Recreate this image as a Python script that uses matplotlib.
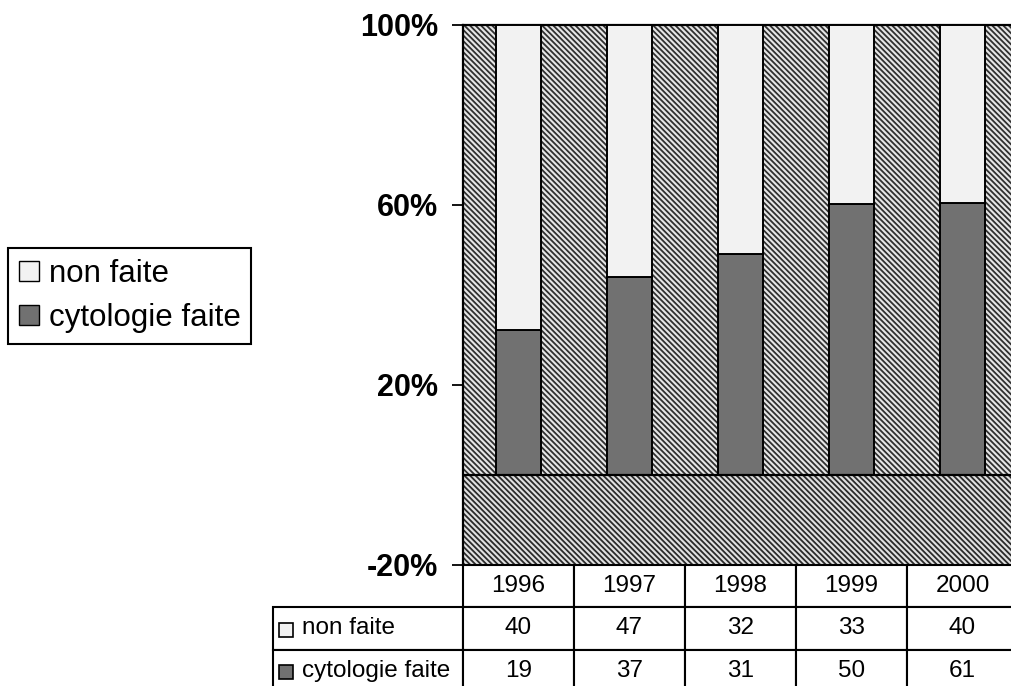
import matplotlib
matplotlib.use("Agg")
import matplotlib.pyplot as plt
from matplotlib.patches import Patch, Rectangle
from matplotlib.table import Table
import numpy as np

years = ['1996', '1997', '1998', '1999', '2000']
non_faite = [40, 47, 32, 33, 40]
cyto_faite = [19, 37, 31, 50, 61]
labels = ['non faite', 'cytologie faite']
yticks = [-20, 20, 60, 100]

c_non = '#f2f2f2'
c_cyto = '#717171'
hatch = '\\' * 6

plt.rcParams['font.family'] = ['Liberation Sans', 'DejaVu Sans']
plt.rcParams['hatch.linewidth'] = 1.3

W, H = 1011, 686
fig = plt.figure(figsize=(W / 100, H / 100), dpi=100)
ax = fig.add_axes([463 / W, 1 - 565 / H, 555 / W, 540 / H])

tot = np.array(non_faite) + np.array(cyto_faite)
pct_cyto = 100 * np.array(cyto_faite) / tot
pct_non = 100 * np.array(non_faite) / tot
x = np.arange(len(years))

# hatched plot area + floor
ax.axhspan(0, 100, facecolor='#e6e6e6', edgecolor='#303030', hatch=hatch, lw=0, zorder=0)
ax.axhspan(-20, 0, facecolor='#e0e0e0', edgecolor='#2a2a2a', hatch=hatch, lw=0, zorder=0)
ax.axhline(0, color='k', lw=1.6, zorder=4)

ax.bar(x, pct_cyto, width=0.41, color=c_cyto, edgecolor='k', lw=1.4, zorder=3)
ax.bar(x, pct_non, width=0.41, bottom=pct_cyto, color=c_non, edgecolor='k', lw=1.4, zorder=3)

ax.set_xlim(-0.5, 4.5)
ax.set_ylim(-20, 100)
ax.set_xticks([])
ax.set_yticks(yticks)
ax.set_yticklabels([f'{v}%' for v in yticks], fontsize=22, fontweight='bold')
ax.tick_params(axis='y', length=8, width=1.3, pad=10)
for s in ['left', 'top']:
    ax.spines[s].set_linewidth(1.6)
ax.spines['right'].set_visible(False)
ax.spines['bottom'].set_visible(False)

# data table under the plot
rows = [[''] + years,
        labels[:1] + [str(v) for v in non_faite],
        labels[1:] + [str(v) for v in cyto_faite]]
col_w = [190] + [111] * len(years)
tb = Table(ax, bbox=[-190 / 555, -127 / 540, sum(col_w) / 555, 127 / 540])
for i, row in enumerate(rows):
    for j, txt in enumerate(row):
        cell = tb.add_cell(i, j, width=col_w[j], height=1, text=txt,
                           loc='left' if j == 0 else 'center', facecolor='white',
                           edgecolor='k')
        cell.set_linewidth(1.5)
        if j == 0:
            cell.PAD = 0.155
        if i == 0 and j == 0:
            cell.visible_edges = 'open'
tb.auto_set_font_size(False)
tb.set_fontsize(17.5)
ax.add_table(tb)

# legend keys inside the table row labels
for yc, col in [(630, c_non), (672, c_cyto)]:
    fig.add_artist(Rectangle((279 / W, 1 - (yc + 7) / H), 14 / W, 14 / H,
                             transform=fig.transFigure, facecolor=col,
                             edgecolor='k', lw=1.2))

handles = [Patch(facecolor=c_non, edgecolor='k'), Patch(facecolor=c_cyto, edgecolor='k')]
leg = fig.legend(handles, labels, loc='upper left', bbox_to_anchor=(8 / W, 1 - 248 / H),
                 frameon=True, fancybox=False, edgecolor='k', framealpha=1,
                 fontsize=22.5, handlelength=0.65, handleheight=0.65,
                 handletextpad=0.3, labelspacing=0.45, borderpad=0.35, borderaxespad=0)
leg.get_frame().set_linewidth(1.5)

fig.savefig('out.png', dpi=100)
